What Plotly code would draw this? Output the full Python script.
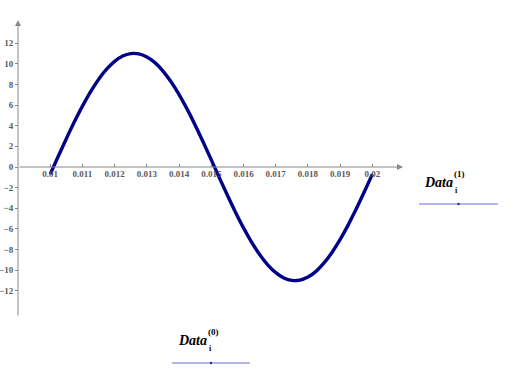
import plotly.graph_objects as go

# Data
t = [0.01000, 0.01025, 0.01050, 0.01075, 0.01100, 0.01125, 0.01150, 0.01175,
     0.01200, 0.01225, 0.01250, 0.01275, 0.01300, 0.01325, 0.01350, 0.01375,
     0.01400, 0.01425, 0.01450, 0.01475, 0.01500, 0.01525, 0.01550, 0.01575,
     0.01600, 0.01625, 0.01650, 0.01675, 0.01700, 0.01725, 0.01750, 0.01775,
     0.01800, 0.01825, 0.01850, 0.01875, 0.01900, 0.01925, 0.01950, 0.01975,
     0.02000]
v = [-0.69, 1.04, 2.74, 4.37, 5.89, 7.27, 8.48, 9.47, 10.23, 10.74, 10.98,
     10.95, 10.65, 10.10, 9.29, 8.25, 7.01, 5.60, 4.05, 2.40, 0.69, -1.04,
     -2.74, -4.37, -5.89, -7.27, -8.48, -9.47, -10.23, -10.74, -10.98, -10.95,
     -10.65, -10.10, -9.29, -8.25, -7.01, -5.60, -4.05, -2.40, -0.69]
x_ticks = [0.010, 0.011, 0.012, 0.013, 0.014, 0.015, 0.016, 0.017, 0.018, 0.019, 0.020]
x_tick_labels = ["0.01", "0.011", "0.012", "0.013", "0.014", "0.015", "0.016",
                 "0.017", "0.018", "0.019", "0.02"]
y_ticks = [-12, -10, -8, -6, -4, -2, 0, 2, 4, 6, 8, 10, 12]
x_axis_label = "Data"
x_axis_sup = "(0)"
y_axis_label = "Data"
y_axis_sup = "(1)"
sub_label = "i"

W, H = 513, 372
X0, X1 = 0.009, 0.02095
Y0, Y1 = -14.52, 14.23

def px(x):
    return x / W

def py(y):
    return 1 - y / H

fig = go.Figure()
fig.add_trace(go.Scatter(x=t, y=v, mode="lines",
                         line=dict(color="#000088", width=3.4, shape="spline", smoothing=1),
                         hoverinfo="skip", showlegend=False))

tickfont = dict(family="Liberation Serif", size=9, color="#5a5a5a", weight="bold")
fig.update_layout(
    width=W, height=H,
    margin=dict(l=0, r=0, t=0, b=0),
    paper_bgcolor="white", plot_bgcolor="white",
    showlegend=False,
    xaxis=dict(domain=[18 / W, 403 / W], range=[X0, X1], anchor="free",
               position=py(167), showgrid=False, zeroline=False, showline=False,
               tickvals=x_ticks, ticktext=x_tick_labels, ticks="inside",
               ticklen=3, tickcolor="#888888", tickfont=tickfont),
    yaxis=dict(domain=[py(317), py(20)], range=[Y0, Y1], anchor="free",
               position=18 / W, showgrid=False, zeroline=False, showline=False,
               tickvals=y_ticks, ticks="outside", ticklen=3,
               tickcolor="#888888", tickfont=tickfont),
)

# axis lines with arrowheads
fig.add_annotation(x=X1, y=0, ax=X0, ay=0, xref="x", yref="y", axref="x", ayref="y",
                   text="", showarrow=True, arrowhead=2, arrowsize=1.2,
                   arrowwidth=1, arrowcolor="#888888")
fig.add_annotation(x=X0, y=Y1, ax=X0, ay=Y0, xref="x", yref="y", axref="x", ayref="y",
                   text="", showarrow=True, arrowhead=2, arrowsize=1.2,
                   arrowwidth=1, arrowcolor="#888888")

labfont = dict(family="Liberation Serif", size=14, color="#000000", weight="bold",
               style="italic")
supfont = dict(family="Liberation Serif", size=9, color="#000000", weight="bold")
subfont = dict(family="Liberation Serif", size=8, color="#000000", weight="bold")

def axis_label(xl, yc, main, sup, sub, line_x0, line_x1, line_y):
    fig.add_annotation(x=px(xl), y=py(yc), xref="paper", yref="paper", text=main,
                       showarrow=False, xanchor="left", yanchor="middle", font=labfont)
    fig.add_annotation(x=px(xl + 30), y=py(yc - 8), xref="paper", yref="paper", text=sup,
                       showarrow=False, xanchor="left", yanchor="middle", font=supfont)
    fig.add_annotation(x=px(xl + 31), y=py(yc + 8), xref="paper", yref="paper", text=sub,
                       showarrow=False, xanchor="left", yanchor="middle", font=subfont)
    fig.add_shape(type="line", xref="paper", yref="paper", x0=px(line_x0), x1=px(line_x1),
                  y0=py(line_y), y1=py(line_y), line=dict(color="#6a6ad8", width=1))
    cx = (line_x0 + line_x1) / 2
    fig.add_shape(type="circle", xref="paper", yref="paper", x0=px(cx - 1.2), x1=px(cx + 1.2),
                  y0=py(line_y - 1.2), y1=py(line_y + 1.2),
                  fillcolor="#2a2a90", line=dict(width=0))

axis_label(422, 182, y_axis_label, y_axis_sup, sub_label, 419, 498, 204)
axis_label(176, 340, x_axis_label, x_axis_sup, sub_label, 172, 250, 363)

fig.write_html("out.html")
